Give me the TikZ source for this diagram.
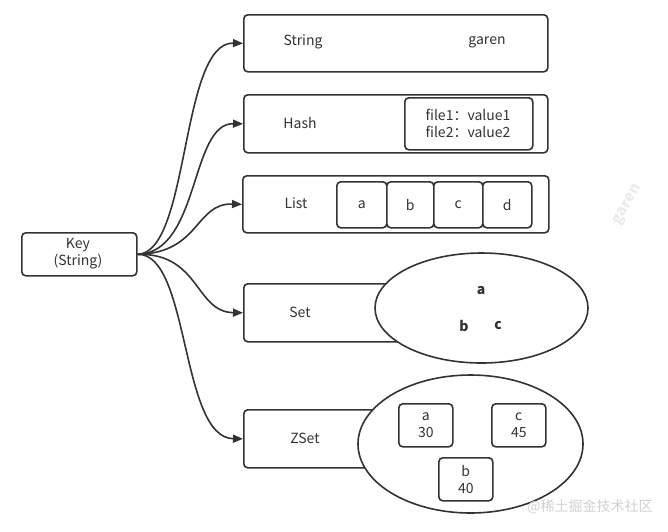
\documentclass[tikz,border=0pt]{standalone}
\usepackage{fontspec}
\setmainfont{Noto Sans CJK SC}
\usetikzlibrary{arrows.meta,shapes.geometric}
\definecolor{ln}{HTML}{333333}
\definecolor{tx}{HTML}{333333}
\begin{document}
\begin{tikzpicture}[x=1pt,y=-1pt,
  box/.style={draw=ln,line width=1.6pt,rounded corners=4pt,fill=white},
  lbl/.style={text=tx,font=\fontsize{14}{17}\selectfont,inner sep=0pt},
  conn/.style={draw=ln,line width=1.6pt,-{Triangle[length=10pt,width=8pt]}},
  ell/.style={draw=ln,line width=1.6pt,fill=white,ellipse,inner sep=0pt}]
\useasboundingbox (0,0) rectangle (668,531);
% Key
\node[box,minimum width=115pt,minimum height=43pt,anchor=north west] (key) at (21,232) {};
\node[lbl,align=center] (keyt) at (78,253.5) {Key\\(String)};
% String
\node[box,minimum width=304pt,minimum height=57pt,anchor=north west] (str) at (243,14) {};
\node[lbl] (strt) at (303,42) {String};
\node[lbl] (strv) at (487,42) {garen};
% Hash
\node[box,minimum width=304pt,minimum height=58pt,anchor=north west] (hash) at (243,94) {};
\node[lbl] (hasht) at (300,123) {Hash};
\node[box,minimum width=128pt,minimum height=52pt,anchor=north west] (hin) at (404,97) {};
\node[lbl,align=left] (hinv) at (468,123) {file1：value1\\file2：value2};
% List
\node[box,minimum width=306pt,minimum height=57pt,anchor=north west] (list) at (242,175) {};
\node[lbl] (listt) at (296,203) {List};
\node[box,minimum width=50pt,minimum height=46pt,anchor=north west] (la) at (336,181) {};
\node[box,minimum width=47pt,minimum height=46pt,anchor=north west] (lb) at (386,181) {};
\node[box,minimum width=49pt,minimum height=46pt,anchor=north west] (lc) at (433,181) {};
\node[box,minimum width=49pt,minimum height=46pt,anchor=north west] (ld) at (482,181) {};
\node[lbl] at (la.center) {a};
\node[lbl] at (lb.center) {b};
\node[lbl] at (lc.center) {c};
\node[lbl] at (ld.center) {d};
% Set
\node[box,minimum width=304pt,minimum height=58pt,anchor=north west] (set) at (243,283) {};
\node[lbl] (sett) at (300,312) {Set};
\node[ell,minimum width=213pt,minimum height=110pt] (sete) at (481.5,308) {};
\node[lbl,font=\fontsize{14}{17}\selectfont\bfseries] (sa) at (481,291) {a};
\node[lbl,font=\fontsize{14}{17}\selectfont\bfseries] (sb) at (464,326) {b};
\node[lbl,font=\fontsize{14}{17}\selectfont\bfseries] (sc) at (498,326) {c};
% ZSet
\node[box,minimum width=304pt,minimum height=58pt,anchor=north west] (zset) at (243,409) {};
\node[lbl] (zsett) at (305,438) {ZSet};
\node[ell,minimum width=225pt,minimum height=138pt] (zsete) at (470.5,444) {};
\node[box,minimum width=54pt,minimum height=43pt,anchor=north west] (za) at (398,403) {};
\node[box,minimum width=54pt,minimum height=43pt,anchor=north west] (zc) at (491,403) {};
\node[box,minimum width=54pt,minimum height=43pt,anchor=north west] (zb) at (438,457) {};
\node[lbl,align=center] at (za.center) {a\\30};
\node[lbl,align=center] at (zc.center) {c\\45};
\node[lbl,align=center] at (zb.center) {b\\40};
% connectors
\coordinate (k) at (key.east);
\draw[conn] (k) .. controls (190,253) and (180,42) .. (str.west);
\draw[conn] (k) .. controls (200,253) and (190,123) .. (hash.west);
\draw[conn] (k) .. controls (200,253) and (195,203) .. (list.west);
\draw[conn] (k) .. controls (200,253) and (195,312) .. (set.west);
\draw[conn] (k) .. controls (190,253) and (180,438) .. (zset.west);
% watermarks
\node[text=black!18,font=\fontsize{14}{17}\selectfont,inner sep=0pt] (wm) at (590,507) {@稀土掘金技术社区};
\node[text=black!8,font=\fontsize{15}{17}\selectfont\bfseries,rotate=60,inner sep=0pt] (wm2) at (628,205) {garen};
\end{tikzpicture}
\end{document}
